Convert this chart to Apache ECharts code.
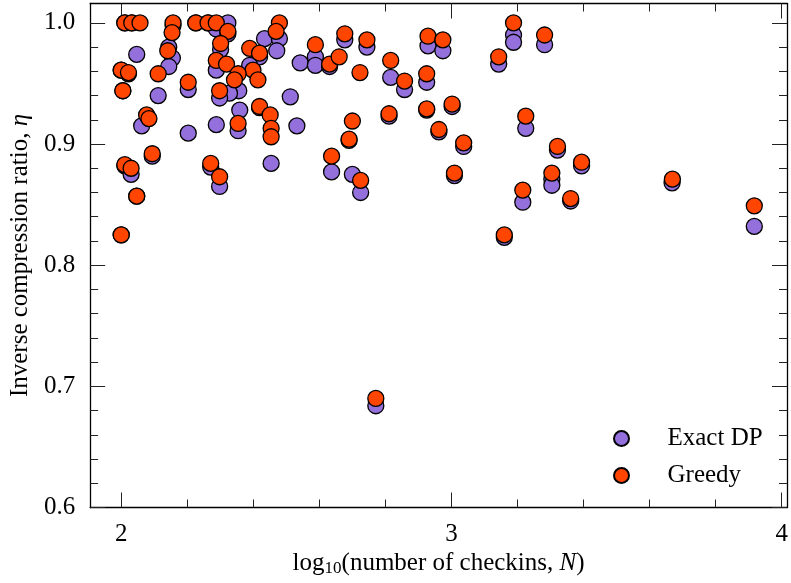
<!DOCTYPE html>
<html>
<head>
<meta charset="utf-8">
<script src="https://cdn.jsdelivr.net/npm/echarts@6/dist/echarts.min.js"></script>
<style>
  html, body { margin: 0; padding: 0; background: #fff; }
  #chart { width: 791px; height: 583px; }
</style>
</head>
<body>
<div id="chart"></div>
<script>
// [log10 N, eta]
var exactDP = [
  [2.000, 0.825], [2.011, 1.000], [2.032, 1.000], [2.000, 0.961], [2.005, 0.944],
  [2.022, 0.958], [2.011, 0.882], [2.047, 0.857], [2.226, 1.000], [2.263, 1.000],
  [2.047, 0.974], [2.157, 0.998], [2.144, 0.980], [2.155, 0.971], [2.144, 0.964],
  [2.112, 0.940], [2.203, 0.945], [2.288, 0.995], [2.323, 1.000], [2.323, 0.991],
  [2.301, 0.978], [2.288, 0.961], [2.434, 0.987], [2.419, 0.972], [2.479, 0.987],
  [2.471, 0.977], [2.389, 0.965], [2.356, 0.944], [2.328, 0.942], [2.298, 0.938],
  [2.359, 0.928], [2.419, 0.930], [2.512, 0.939], [2.532, 0.915], [2.542, 0.967],
  [2.588, 0.972], [2.588, 0.965], [2.631, 0.964], [2.677, 0.986], [2.637, 0.877],
  [2.700, 0.875], [2.454, 0.884], [2.354, 0.911], [2.288, 0.916], [2.203, 0.909],
  [2.062, 0.915], [2.094, 0.890], [2.030, 0.875], [2.271, 0.881], [2.298, 0.865],
  [2.725, 0.860], [2.690, 0.903], [2.744, 0.980], [2.816, 0.955], [2.858, 0.945],
  [2.929, 0.981], [2.974, 0.977], [2.925, 0.951], [3.143, 0.966], [3.188, 0.990],
  [3.188, 0.984], [3.282, 0.982], [2.811, 0.923], [2.925, 0.928], [3.002, 0.931],
  [2.962, 0.910], [3.037, 0.898], [3.225, 0.913], [3.321, 0.895], [3.394, 0.882],
  [3.009, 0.874], [3.304, 0.871], [3.304, 0.866], [3.216, 0.852], [3.361, 0.853],
  [3.160, 0.823], [2.771, 0.684], [3.668, 0.868], [3.917, 0.832]
];

var greedy = [
  [2.000, 0.961], [2.005, 0.944], [2.011, 0.883], [2.000, 0.825], [2.011, 1.000],
  [2.032, 1.000], [2.057, 1.000], [2.022, 0.959], [2.030, 0.880], [2.047, 0.857],
  [2.077, 0.924], [2.084, 0.921], [2.094, 0.892], [2.112, 0.958], [2.157, 1.000],
  [2.154, 0.992], [2.141, 0.977], [2.203, 0.951], [2.226, 1.000], [2.263, 1.000],
  [2.288, 1.000], [2.323, 0.993], [2.301, 0.983], [2.288, 0.969], [2.319, 0.966],
  [2.389, 0.979], [2.419, 0.975], [2.479, 1.000], [2.469, 0.993], [2.399, 0.961],
  [2.414, 0.953], [2.354, 0.958], [2.343, 0.953], [2.298, 0.944], [2.419, 0.931],
  [2.451, 0.924], [2.454, 0.913], [2.454, 0.906], [2.354, 0.917], [2.271, 0.884],
  [2.298, 0.873], [2.588, 0.982], [2.631, 0.966], [2.660, 0.972], [2.677, 0.991],
  [2.700, 0.919], [2.690, 0.904], [2.637, 0.890], [2.725, 0.870], [2.744, 0.986],
  [2.723, 0.959], [2.816, 0.969], [2.858, 0.952], [2.929, 0.989], [2.974, 0.986],
  [2.925, 0.958], [2.811, 0.925], [2.925, 0.929], [3.002, 0.933], [2.962, 0.912],
  [3.037, 0.901], [3.009, 0.876], [3.143, 0.972], [3.188, 1.000], [3.282, 0.990],
  [3.225, 0.923], [3.321, 0.898], [3.394, 0.885], [3.304, 0.876], [3.216, 0.862],
  [3.361, 0.855], [3.160, 0.825], [2.771, 0.690], [3.669, 0.871], [3.917, 0.849]
];

var xMajor = [2, 3, 4];
var xMinor = [2.2, 2.4, 2.6, 2.8, 3.2, 3.4, 3.6, 3.8];
var yMajor = [0.6, 0.7, 0.8, 0.9, 1.0];
var yMinor = [0.62, 0.64, 0.66, 0.68, 0.72, 0.74, 0.76, 0.78, 0.82, 0.84, 0.86, 0.88,
              0.92, 0.94, 0.96, 0.98, 1.0];

var font = 'Liberation Serif';
var xMin = 1.906, xMax = 4.016;
var yMin = 0.6, yMax = 1.016;

// one axis = one set of ticks (major or minor), all sharing the same scale
function xAx(pos, ticks, len, withLine, withLabel) {
  var ax = {
    type: 'value', position: pos, min: xMin, max: xMax,
    splitLine: { show: false },
    axisLine: { show: withLine, onZero: false, lineStyle: { color: '#000', width: 1.3 } },
    axisTick: { show: true, inside: true, length: len, customValues: ticks,
                lineStyle: { color: '#222', width: 1 } },
    axisLabel: { show: withLabel }
  };
  if (withLabel) {
    ax.axisLabel = { show: true, customValues: ticks, margin: 14,
      fontFamily: font, fontSize: 25, color: '#000' };
    ax.name = '{n|log}{s|10}{n|(number of checkins, }{i|N}{n|)}';
    ax.nameLocation = 'middle';
    ax.nameGap = 33;
    ax.nameTextStyle = {
      fontFamily: font, color: '#000',
      rich: {
        n: { fontFamily: font, fontSize: 25, color: '#000' },
        i: { fontFamily: font, fontSize: 25, fontStyle: 'italic', color: '#000' },
        s: { fontFamily: font, fontSize: 17, color: '#000', verticalAlign: 'bottom', padding: [10, 0, 0, 0] }
      }
    };
  }
  return ax;
}

function yAx(pos, ticks, len, withLine, withLabel) {
  var ax = {
    type: 'value', position: pos, min: yMin, max: yMax,
    splitLine: { show: false },
    axisLine: { show: withLine, onZero: false, lineStyle: { color: '#000', width: 1.3 } },
    axisTick: { show: true, inside: true, length: len, customValues: ticks,
                lineStyle: { color: '#222', width: 1 } },
    axisLabel: { show: withLabel }
  };
  if (withLabel) {
    ax.axisLabel = { show: true, customValues: ticks, margin: 15,
      fontFamily: font, fontSize: 25, color: '#000',
      formatter: function (v) { return v.toFixed(1); } };
    ax.name = '{n|Inverse compression ratio, }{i|η}';
    ax.nameLocation = 'middle';
    ax.nameGap = 54;
    ax.nameTextStyle = {
      fontFamily: font, color: '#000',
      rich: {
        n: { fontFamily: font, fontSize: 25, color: '#000' },
        i: { fontFamily: font, fontSize: 25, fontStyle: 'italic', color: '#000' }
      }
    };
  }
  return ax;
}

var chart = echarts.init(document.getElementById('chart'));
chart.setOption({
  animation: false,
  backgroundColor: '#fff',
  grid: { left: 88, right: 4, top: 3.5, bottom: 75.5 },
  xAxis: [
    xAx('bottom', xMajor, 15, true, true),
    xAx('bottom', xMinor, 8, false, false),
    xAx('top', xMajor, 15, true, false),
    xAx('top', xMinor, 8, false, false)
  ],
  yAxis: [
    yAx('left', yMajor, 15, true, true),
    yAx('left', yMinor, 8, false, false),
    yAx('right', yMajor, 15, true, false),
    yAx('right', yMinor, 8, false, false)
  ],
  legend: {
    orient: 'vertical',
    left: 608,
    top: 421,
    itemWidth: 82,
    itemHeight: 15,
    itemGap: 12,
    icon: 'circle',
    textStyle: { fontFamily: font, fontSize: 25, color: '#000', lineHeight: 24 },
    data: ['Exact DP', 'Greedy']
  },
  series: [
    {
      name: 'Exact DP',
      type: 'scatter',
      symbol: 'circle',
      symbolSize: 16,
      itemStyle: { color: '#9370DB', borderColor: '#000', borderWidth: 1.3, opacity: 1 },
      data: exactDP
    },
    {
      name: 'Greedy',
      type: 'scatter',
      symbol: 'circle',
      symbolSize: 16,
      itemStyle: { color: '#FF4500', borderColor: '#000', borderWidth: 1.3, opacity: 1 },
      data: greedy
    }
  ]
});
</script>
</body>
</html>
